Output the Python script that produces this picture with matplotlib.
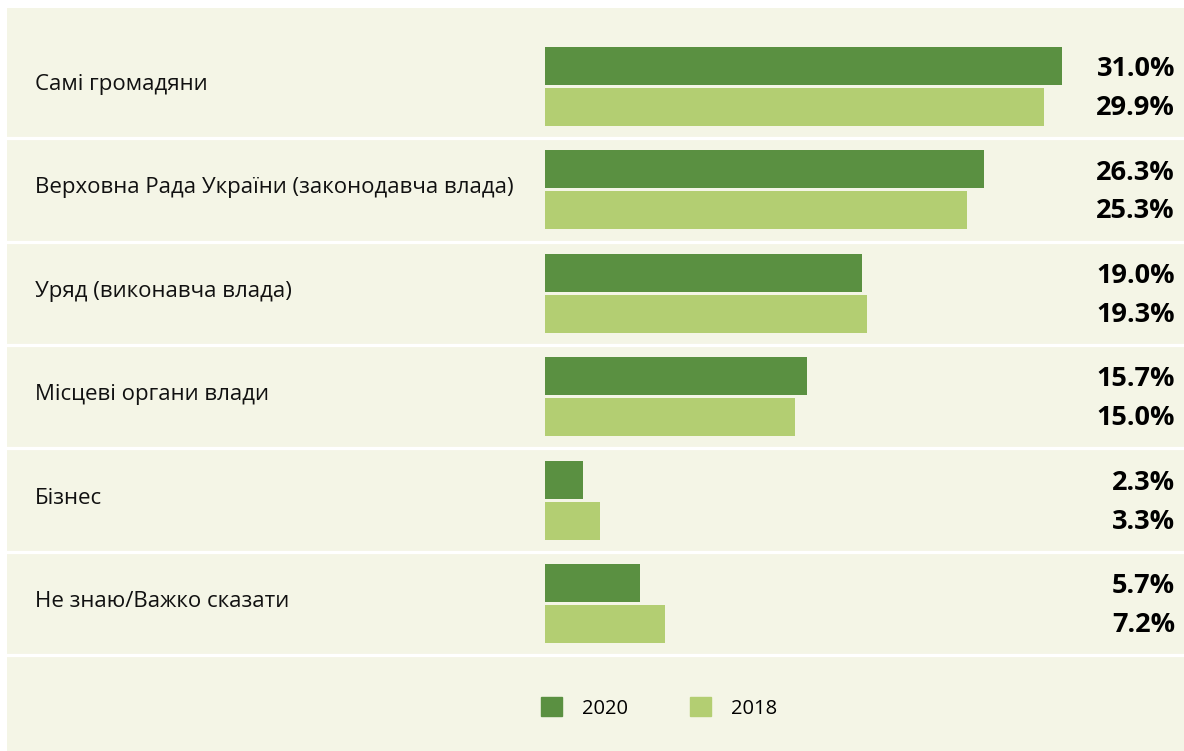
import matplotlib.pyplot as plt
from matplotlib.patches import Patch

categories = [
    "Самі громадяни",
    "Верховна Рада України (законодавча влада)",
    "Уряд (виконавча влада)",
    "Місцеві органи влади",
    "Бізнес",
    "Не знаю/Важко сказати",
]
values_2020 = [31.0, 26.3, 19.0, 15.7, 2.3, 5.7]
values_2018 = [29.9, 25.3, 19.3, 15.0, 3.3, 7.2]
series_labels = ["2020", "2018"]

DARK = "#5a9041"
LIGHT = "#b3ce72"
PANEL = "#f4f5e6"

plt.rcParams["font.family"] = ["Open Sans", "DejaVu Sans"]

W, H = 1184, 751
fig = plt.figure(figsize=(W / 100, H / 100), dpi=100)
fig.patch.set_facecolor("white")

# panel axes in pixel terms: x 7..1184, y 8..751
px_left, px_right, px_top, px_bot = 7, 1184, 8, 751
ax = fig.add_axes([px_left / W, 1 - px_bot / H, (px_right - px_left) / W, (px_bot - px_top) / H])
ax.set_facecolor(PANEL)

x0 = 545  # pixel where zero sits
scale = (1062 - x0) / 31.0  # px per percent
ax.set_xlim(-(x0 - px_left) / scale, (px_right - x0) / scale)

pitch = 103.4
c0 = 86.5
ax.set_ylim((px_bot - c0) / pitch, -(c0 - px_top) / pitch)

bh = 38 / pitch
off = 20.5 / pitch
n = len(categories)
ys = list(range(n))
ax.barh([y - off for y in ys], values_2020, height=bh, color=DARK, label=series_labels[0])
ax.barh([y + off for y in ys], values_2018, height=bh, color=LIGHT, label=series_labels[1])

for y in ys:
    ax.axhline(y + 0.5, color="white", lw=2.3)

lab_x = (35 - x0) / scale
val_x = (1175 - x0) / scale
for y, cat, a, b in zip(ys, categories, values_2020, values_2018):
    ax.text(lab_x, y - 0.02, cat, va="center", ha="left", fontsize=16, color="#111111")
    ax.text(val_x, y - off + 0.03, f"{a:.1f}%", va="center", ha="right", fontsize=19.5,
            fontweight="bold", color="black")
    ax.text(val_x, y + off + 0.01, f"{b:.1f}%", va="center", ha="right", fontsize=19.5,
            fontweight="bold", color="black")

for s in ax.spines.values():
    s.set_visible(False)
ax.set_xticks([])
ax.set_yticks([])

handles = [Patch(color=DARK, label=series_labels[0]), Patch(color=LIGHT, label=series_labels[1])]
fig.legend(handles=handles, loc="center", bbox_to_anchor=(659 / W, 1 - 708 / H), ncol=2,
           frameon=False, fontsize=14.5, handlelength=1.05, handleheight=1.05,
           handletextpad=1.0, columnspacing=3.05)

fig.savefig("out.png", dpi=100, facecolor="white")
